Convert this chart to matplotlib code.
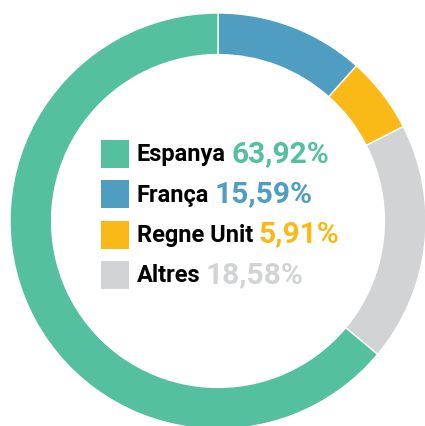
import matplotlib.pyplot as plt
from matplotlib.patches import Rectangle

# Wedges, clockwise from 12 o'clock
wedge_names = ['França', 'Regne Unit', 'Altres', 'Espanya']
wedge_values = [11.59, 5.91, 18.58, 63.92]
wedge_colors = ['#4f9dc0', '#fbb917', '#d1d3d4', '#55c0a0']

# Legend in the middle of the ring (as printed)
legend_names = ['Espanya', 'França', 'Regne Unit', 'Altres']
legend_pcts = ['63,92%', '15,59%', '5,91%', '18,58%']
legend_colors = ['#55c0a0', '#4f9dc0', '#fbb917', '#d1d3d4']

W, H = 425, 426
fig = plt.figure(figsize=(W / 100, H / 100), dpi=100)
ax = fig.add_axes([0, 0, 1, 1])

ax.pie(wedge_values, colors=wedge_colors, startangle=90, counterclock=False,
       radius=1, wedgeprops=dict(width=0.2, edgecolor='white', linewidth=1))

# center of ring at (218, 221) px, radius 208 px
r_px = 208
ax.set_xlim(-218 / r_px, (W - 218) / r_px)
ax.set_ylim(-(H - 221) / r_px, 221 / r_px)
ax.set_aspect('auto')
ax.axis('off')

fam = ['Roboto', 'DejaVu Sans']

fig.canvas.draw()
renderer = fig.canvas.get_renderer()
for i, (name, pct, col) in enumerate(zip(legend_names, legend_pcts, legend_colors)):
    top = 140 + i * 40.3
    fig.add_artist(Rectangle((101 / W, 1 - (top + 28) / H), 28 / W, 28 / H,
                             transform=fig.transFigure, color=col, lw=0))
    yc = 1 - (top + 15) / H
    t = fig.text(137 / W, yc, name, color='black', va='center', ha='left',
                 family=fam, fontweight='bold', fontsize=17)
    bb = t.get_window_extent(renderer=renderer)
    fig.text((bb.x1 + 5) / W, yc + 1 / H, pct, color=col, va='center', ha='left',
             family=fam, fontweight='bold', fontsize=21.5)

plt.savefig('out.png', dpi=100)
